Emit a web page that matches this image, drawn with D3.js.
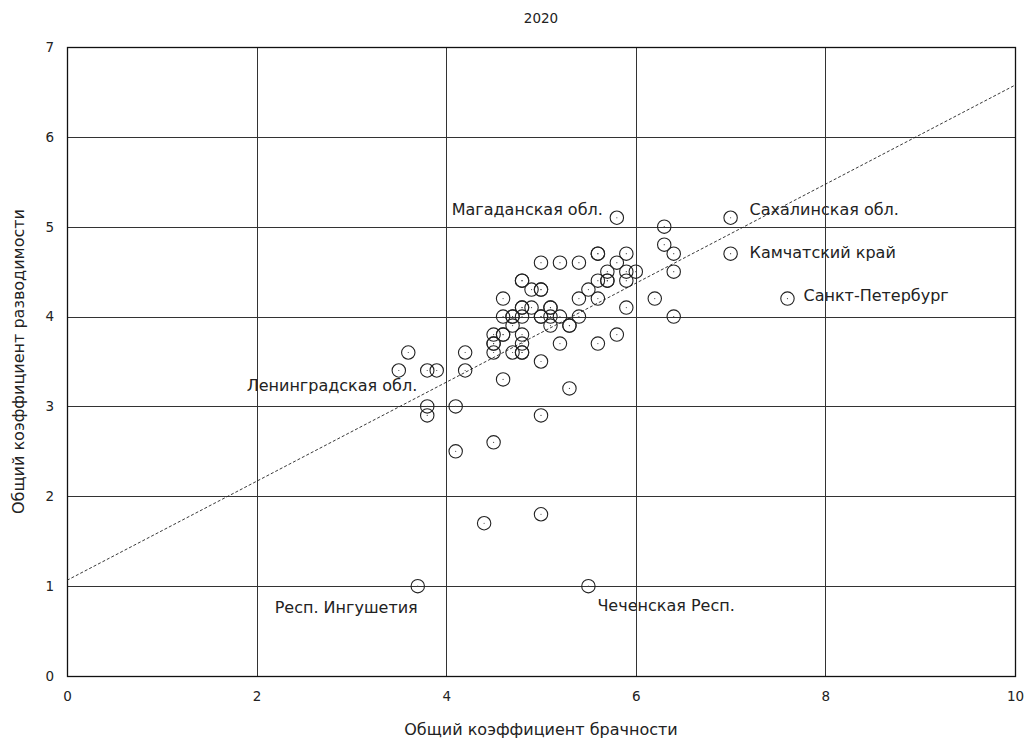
<!DOCTYPE html>
<html><head><meta charset="utf-8">
<script src="https://cdn.jsdelivr.net/npm/d3@7"></script>
<style>body{margin:0;background:#fff}text{font-family:"DejaVu Sans",Verdana,sans-serif;fill:#222}</style>
</head><body><svg id="c" width="1030" height="738"></svg>
<script>
const chartTitle = "2020";
const xTitle = "Общий коэффициент брачности";
const yTitle = "Общий коэффициент разводимости";
const xTicks = [0, 2, 4, 6, 8, 10];
const yTicks = [0, 1, 2, 3, 4, 5, 6, 7];
// marriage rate (x) and divorce rate (y) per region
const marriage = [3.6,3.5,3.8,3.9,3.8,3.8,3.7,4.1,4.1,4.2,4.2,4.4,4.5,4.6,5.0,5.0,5.0,5.3,5.5,5.6,5.8,6.2,6.4,5.8,6.3,6.3,6.4,6.4,7.0,7.0,7.6,
  5.0,5.2,5.4,4.8,4.8,4.9,5.0,5.0,4.6,5.4,5.5,4.8,4.8,4.9,5.1,5.1,4.6,4.7,4.7,4.8,5.0,5.0,5.1,5.2,5.4,4.7,5.1,5.3,5.3,
  4.5,4.6,4.6,4.8,4.5,4.5,4.8,5.2,4.7,4.8,4.8,4.5,5.6,5.6,5.9,5.8,5.7,5.9,6.0,5.6,5.7,5.7,5.9,5.6,5.9];
const divorce = [3.6,3.4,3.4,3.4,3.0,2.9,1.0,3.0,2.5,3.6,3.4,1.7,2.6,3.3,3.5,2.9,1.8,3.2,1.0,3.7,3.8,4.2,4.0,5.1,5.0,4.8,4.7,4.5,5.1,4.7,4.2,
  4.6,4.6,4.6,4.4,4.4,4.3,4.3,4.3,4.2,4.2,4.3,4.1,4.1,4.1,4.1,4.1,4.0,4.0,4.0,4.0,4.0,4.0,4.0,4.0,4.0,3.9,3.9,3.9,3.9,
  3.8,3.8,3.8,3.8,3.7,3.7,3.7,3.7,3.6,3.6,3.6,3.6,4.7,4.7,4.7,4.6,4.5,4.5,4.5,4.4,4.4,4.4,4.4,4.2,4.1];
// labelled regions: name, marriage, divorce
const labelNames = ["Магаданская обл.","Сахалинская обл.","Камчатский край","Санкт-Петербург","Ленинградская обл.","Респ. Ингушетия","Чеченская Респ."];
const labelX = [5.8, 7.0, 7.0, 7.6, 3.8, 3.7, 5.5];
const labelY = [5.1, 5.1, 4.7, 4.2, 3.2, 1.0, 1.0];
// trend line: intercept, slope
const trend = [1.065, 0.551];

const svg = d3.select("#c");
const m = {l:67, r:1015, t:47, b:676};
const x = d3.scaleLinear().domain([0,10]).range([m.l, m.r]);
const y = d3.scaleLinear().domain([0,7]).range([m.b, m.t]);

// labels (under grid)
const lab = [
  {a:"end", dx:-14, dy:-3},
  {a:"start", dx:19, dy:-3},
  {a:"start", dx:19, dy:4},
  {a:"start", dx:16, dy:2},
  {a:"end", dx:-10, dy:2.5},
  {a:"end", dx:0, dy:27},
  {a:"start", dx:9, dy:25}
];
svg.append("g").selectAll("text").data(labelNames).join("text")
  .attr("x",(d,i)=>x(labelX[i])+lab[i].dx)
  .attr("y",(d,i)=>y(labelY[i])+lab[i].dy)
  .attr("text-anchor",(d,i)=>lab[i].a)
  .attr("font-size",16).text(d=>d);

// grid
const g = svg.append("g").attr("stroke","#333").attr("stroke-width",1);
g.selectAll("line.v").data(xTicks.slice(1,-1)).join("line")
  .attr("x1",d=>Math.round(x(d))+0.5).attr("x2",d=>Math.round(x(d))+0.5).attr("y1",m.t).attr("y2",m.b);
g.selectAll("line.h").data(yTicks.slice(1,-1)).join("line")
  .attr("y1",d=>Math.round(y(d))+0.5).attr("y2",d=>Math.round(y(d))+0.5).attr("x1",m.l).attr("x2",m.r);
svg.append("rect").attr("x",m.l+0.5).attr("y",m.t+0.5).attr("width",m.r-m.l).attr("height",m.b-m.t)
  .attr("fill","none").attr("stroke","#111").attr("stroke-width",1.3);

// axes tick labels
const xa = svg.append("g").attr("transform",`translate(0,${m.b})`)
  .call(d3.axisBottom(x).tickValues(xTicks).tickSize(0).tickPadding(15).tickFormat(d3.format("d")));
xa.select(".domain").remove();
const ya = svg.append("g").attr("transform",`translate(${m.l},0)`)
  .call(d3.axisLeft(y).tickValues(yTicks).tickSize(0).tickPadding(13).tickFormat(d3.format("d")));
ya.select(".domain").remove();
svg.selectAll(".tick text").attr("font-size",13.5).attr("font-family","DejaVu Sans").attr("fill","#222");

// trend line
svg.append("line").attr("x1",x(0)).attr("y1",y(trend[0])).attr("x2",x(10)).attr("y2",y(trend[0]+trend[1]*10))
  .attr("stroke","#222").attr("stroke-width",0.9).attr("stroke-dasharray","3,2");

// points
const pts = svg.append("g");
pts.selectAll("circle.o").data(marriage).join("circle")
  .attr("cx",(d)=>x(d)).attr("cy",(d,i)=>y(divorce[i])).attr("r",6.7)
  .attr("fill","none").attr("stroke","#222").attr("stroke-width",1.1);
pts.selectAll("circle.d").data(marriage).join("circle").attr("class","d")
  .attr("cx",(d)=>x(d)).attr("cy",(d,i)=>y(divorce[i])).attr("r",0.6).attr("fill","#444");

// titles
svg.append("text").attr("x",(m.l+m.r)/2).attr("y",23).attr("text-anchor","middle").attr("font-size",13.5).text(chartTitle);
svg.append("text").attr("x",(m.l+m.r)/2).attr("y",735).attr("text-anchor","middle").attr("font-size",16).text(xTitle);
svg.append("text").attr("transform",`translate(24,${(m.t+m.b)/2}) rotate(-90)`).attr("text-anchor","middle").attr("font-size",16).text(yTitle);
</script></body></html>
